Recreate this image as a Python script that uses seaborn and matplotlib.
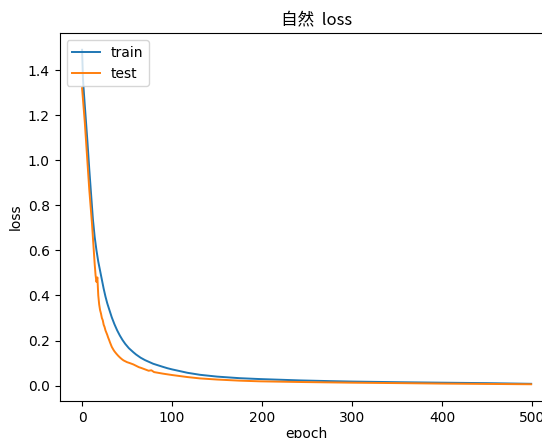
import pandas as pd
import matplotlib.pyplot as plt
import seaborn as sns

# 训练 / 测试 loss
train_epoch = [0, 1, 2, 4, 6, 8, 10, 12, 13, 14, 15, 16, 18, 20, 22, 24, 26, 28, 30,
               33, 36, 39, 42, 45, 48, 52, 57, 60, 65, 70, 79, 90, 95, 100, 117, 131,
               150, 175, 198, 243, 275, 300, 354, 400, 450, 499]
train_loss = [1.49, 1.36, 1.30, 1.19, 1.08, 0.96, 0.85, 0.74, 0.70, 0.66, 0.63, 0.60,
              0.55, 0.51, 0.47, 0.43, 0.395, 0.365, 0.34, 0.303, 0.272, 0.245, 0.222,
              0.202, 0.185, 0.166, 0.148, 0.138, 0.124, 0.113, 0.097, 0.083, 0.077,
              0.072, 0.057, 0.048, 0.040, 0.033, 0.029, 0.023, 0.020, 0.018, 0.015,
              0.013, 0.011, 0.008]

test_epoch = [0, 1, 2, 3, 4, 5, 6, 7, 8, 9, 10, 11, 12, 13, 14, 15, 16, 17, 18, 19,
              20, 21, 22, 23, 24, 25, 26, 27, 28, 29, 30, 31, 32, 33, 34, 35, 36, 38,
              40, 42, 44, 46, 48, 50, 53, 57, 60, 63, 66, 70, 74, 77, 80, 90, 95, 100,
              117, 131, 150, 175, 198, 243, 300, 354, 400, 450, 499]
test_loss = [1.32, 1.27, 1.22, 1.17, 1.11, 1.05, 0.99, 0.93, 0.87, 0.82, 0.77, 0.72,
             0.66, 0.60, 0.54, 0.49, 0.46, 0.48, 0.40, 0.36, 0.335, 0.32, 0.30, 0.29,
             0.27, 0.26, 0.245, 0.235, 0.225, 0.213, 0.203, 0.192, 0.182, 0.172, 0.165,
             0.158, 0.152, 0.142, 0.133, 0.125, 0.118, 0.112, 0.108, 0.104, 0.10, 0.094,
             0.088, 0.082, 0.078, 0.072, 0.066, 0.068, 0.060, 0.053, 0.050, 0.047,
             0.038, 0.032, 0.027, 0.022, 0.019, 0.016, 0.013, 0.011, 0.009, 0.0075,
             0.006]

df_train = pd.DataFrame({'epoch': train_epoch, 'loss': train_loss})
df_test = pd.DataFrame({'epoch': test_epoch, 'loss': test_loss})

fig = plt.figure(figsize=(5.42, 4.38), dpi=100)
ax = fig.add_axes([0.11, 0.0845, 0.9114, 0.840])

sns.lineplot(data=df_train, x='epoch', y='loss', ax=ax, color='C0', label='train', linewidth=1.4)
sns.lineplot(data=df_test, x='epoch', y='loss', ax=ax, color='C1', label='test', linewidth=1.4)

ax.set_title('自然  loss', family=['Noto Sans CJK SC', 'DejaVu Sans'], x=0.52)
ax.set_xlabel('epoch', labelpad=2)
ax.set_ylabel('loss')
ax.set_xticks([0, 100, 200, 300, 400, 500])
ax.legend(loc='upper left')

plt.savefig('out.png', dpi=100)
